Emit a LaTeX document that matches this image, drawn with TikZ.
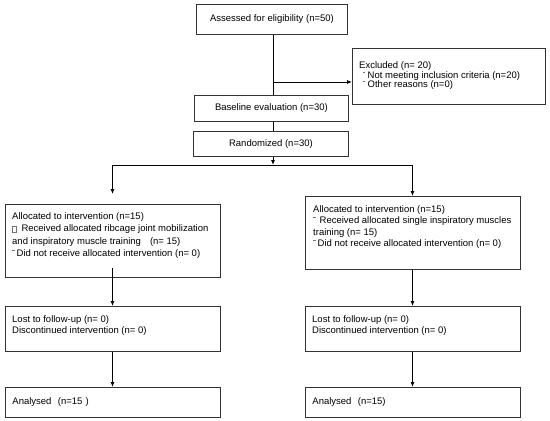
\documentclass[tikz,border=0pt]{standalone}
\usepackage{fontspec}
\setmainfont{Liberation Sans}
\usetikzlibrary{arrows.meta,positioning}
\tikzset{
  okvir/.style={draw=black!80,line width=0.9pt,anchor=north west,inner sep=0pt,
                font=\fontsize{9.5}{11}\selectfont},
  tekst/.style={anchor=north west,align=left,inner sep=0pt},
  str/.style={-{Latex[length=5pt,width=4pt]},line width=0.8pt,black},
  lin/.style={line width=0.8pt,black},
}
\newcommand{\crtica}{\raisebox{0.62em}{\color{black!55}\rule{2.5pt}{0.6pt}}}
\newcommand{\kvadrat}{{\color{black!55}\setlength{\fboxsep}{0pt}\setlength{\fboxrule}{0.4pt}\fbox{\rule{0pt}{5.5pt}\hspace{3.5pt}}}}

\begin{document}
\begin{tikzpicture}[x=1pt,y=-1pt]
  \useasboundingbox (0,0) rectangle (550,421);

  % ---------- GORNJI DEO ----------
  \node[okvir,minimum width=151pt,minimum height=30pt] (procena) at (196,4)
       {Assessed for eligibility (n=50)};
  \node[okvir,minimum width=193pt,minimum height=56pt] (iskljuceni) at (352,48) {};
  \node[okvir,minimum width=154pt,minimum height=26pt] (osnovna) at (194,95)
       {Baseline evaluation (n=30)};
  \node[okvir,minimum width=155pt,minimum height=25pt] (random) at (193,131)
       {Randomized (n=30)};

  \node[tekst,font=\fontsize{9.5}{9.6}\selectfont] (t-iskljuceni)
       at ([xshift=7pt,yshift=-13.5pt]iskljuceni.north west)
       {Excluded (n= 20)\\
        \hspace{3.5pt}\crtica\hspace{2.5pt}Not meeting inclusion criteria (n=20)\\
        \hspace{3.5pt}\crtica\hspace{2.5pt}Other reasons (n=0)};

  % ---------- GRUPE ----------
  \node[okvir,minimum width=215pt,minimum height=73pt] (alokA) at (5,204) {};
  \node[okvir,minimum width=215pt,minimum height=73pt] (alokB) at (305,196) {};
  \node[okvir,minimum width=215pt,minimum height=45pt] (gubA) at (5,306) {};
  \node[okvir,minimum width=215pt,minimum height=45pt] (gubB) at (305,306) {};
  \node[okvir,minimum width=215pt,minimum height=30pt,text width=201pt,
        align=left,inner xsep=7pt] (analizaA) at (5,387) {Analysed\ \ (n=15 )};
  \node[okvir,minimum width=215pt,minimum height=30pt,text width=201pt,
        align=left,inner xsep=7pt] (analizaB) at (305,387) {Analysed\ \ (n=15)};

  \node[tekst,font=\fontsize{9.5}{12.3}\selectfont] (t-alokA)
       at ([xshift=7pt,yshift=-8.5pt]alokA.north west)
       {Allocated to intervention (n=15)\\
        \kvadrat\hspace{5pt}Received allocated ribcage joint mobilization\\
        and inspiratory muscle training\hspace{9pt}(n= 15)\\
        \crtica\hspace{2pt}Did not receive allocated intervention (n= 0)};
  \node[tekst,font=\fontsize{9.5}{11.3}\selectfont] (t-alokB)
       at ([xshift=8pt,yshift=-9.5pt]alokB.north west)
       {Allocated to intervention (n=15)\\
        \crtica\hspace{4pt}Received allocated single inspiratory muscles\\
        training (n= 15)\\
        \crtica\hspace{2pt}Did not receive allocated intervention (n= 0)};
  \node[tekst,font=\fontsize{9.5}{11}\selectfont] (t-gubA)
       at ([xshift=7pt,yshift=-9.5pt]gubA.north west)
       {Lost to follow-up (n= 0)\\Discontinued intervention (n= 0)};
  \node[tekst,font=\fontsize{9.5}{11}\selectfont] (t-gubB)
       at ([xshift=7pt,yshift=-9.5pt]gubB.north west)
       {Lost to follow-up (n= 0)\\Discontinued intervention (n= 0)};

  % ---------- VEZE ----------
  \coordinate (grana)  at (273,82);
  \coordinate (racva)  at (273,165);
  \coordinate (racvaA) at (112.5,165);
  \coordinate (racvaB) at (412.5,165);
  \coordinate (krajA)  at (112.5,194);
  \coordinate (izlazA) at (112.5,268);

  \draw[lin] (procena.south -| grana) -- (osnovna.north -| grana);
  \draw[str] (grana) -- (grana -| iskljuceni.west);
  \draw[lin] (osnovna.south -| grana) -- (random.north -| grana);
  \draw[str] (random.south -| grana) -- (racva);
  \draw[lin] (racvaA) -- (racvaB);
  \draw[str] (racvaA) -- (krajA);
  \draw[str] (racvaB) -- (alokB.north -| racvaB);

  \draw[str] (izlazA) -- (gubA.north -| izlazA);
  \draw[str] (alokB.south -| racvaB) -- (gubB.north -| racvaB);
  \draw[str] (gubA.south -| racvaA) -- (analizaA.north -| racvaA);
  \draw[str] (gubB.south -| racvaB) -- (analizaB.north -| racvaB);

\end{tikzpicture}
\end{document}
